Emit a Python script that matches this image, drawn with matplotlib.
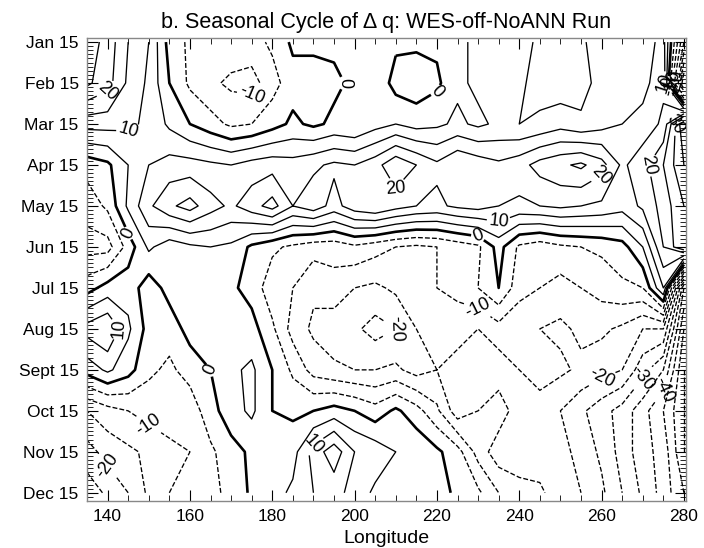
import numpy as np
import matplotlib
matplotlib.use("Agg")
import matplotlib.pyplot as plt
from matplotlib.ticker import MultipleLocator

plt.rcParams['font.family'] = ['Liberation Sans', 'DejaVu Sans']

# Longitude grid (deg E) and month labels
longitudes = [135, 140, 145, 150, 155, 160, 165, 170, 175, 180,
              185, 190, 195, 200, 205, 210, 215, 220, 225, 230,
              235, 240, 245, 250, 255, 260, 265, 270, 275, 280]
months = ["Jan 15", "Feb 15", "Mar 15", "Apr 15", "May 15", "Jun 15",
          "Jul 15", "Aug 15", "Sept 15", "Oct 15", "Nov 15", "Dec 15"]

# Delta q by month (rows) and longitude (columns)
dq_jan = [28, 23, 15, 10, -2, -6, -5, -7, -7, -4, 1, 2, 1, 3, 4, 1, 1, 1, 3, 7, 8, 7, 4, 3, 4, 8, 9, 7, 12, -20]
dq_feb = [26, 22, 14, 9, 0, -6, -9, -11, -12, -7, -2, -4, -1, 1, 4, -2, -3, -1, 4, 6, 8, 6, 3, 2, 3, 7, 8, 8, 14, -40]
dq_mar = [12, 12, 11, 9, 4, 0, -3, -6, -5, -2, 1, -1, 1, 0, 3, 5, 3, 4, 6, 4, 6, 5, 6, 8, 6, 8, 10, 12, 16, 40]
dq_apr = [-3, -1, 5, 10, 12, 12, 11, 10, 12, 13, 12, 14, 16, 15, 18, 24, 20, 16, 20, 18, 16, 18, 22, 24, 26, 22, 14, 18, 25, 35]
dq_may = [-8, -4, 6, 14, 19, 22, 17, 14, 18, 22, 15, 18, 13, 18, 20, 17, 15, 14, 16, 17, 15, 14, 15, 16, 15, 14, 12, 16, 22, 30]
dq_jun = [-12, -12, -3, 6, 2, 4, 5, 4, -1, -4, -6, -8, -8, -6, -8, -10, -11, -10, -8, -6, 2, -6, -8, -6, -5, -4, -2, 5, 20, 30]
dq_jul = [-2, 2, 3, -3, 2, 3, 3, 1, -2, -8, -10, -14, -12, -15, -16, -14, -12, -10, -8, -5, 0, -8, -10, -12, -10, -8, -6, -5, 10, -40]
dq_aug = [12, 15, 6, -2, -3, 2, 3, 1, 2, -4, -12, -16, -18, -19, -22, -20, -15, -13, -14, -15, -12, -14, -15, -16, -14, -14, -16, -20, -20, -50]
dq_sep = [2, 6, 2, -4, -6, -3, 0, 4, 6, 0, -6, -12, -14, -15, -15, -14, -17, -15, -16, -19, -18, -15, -14, -14, -16, -18, -20, -28, -35, -55]
dq_oct = [-15, -12, -10, -8, -6, -8, -2, 3, 6, 0, -1, 0, 2, 0, -3, 1, -3, -9, -18, -15, -12, -18, -16, -20, -24, -28, -32, -38, -45, -55]
dq_nov = [-22, -18, -16, -14, -12, -10, -6, -2, 1, 2, 3, 12, 18, 10, 8, 5, 4, 1, -3, -12, -18, -20, -18, -18, -22, -26, -32, -38, -42, -55]
dq_dec = [-28, -24, -20, -14, -10, -8, -6, -4, 1, 3, 6, 10, 12, 8, 4, 3, 3, 2, -1, -4, -10, -12, -14, -18, -20, -24, -30, -36, -42, -50]

dq = np.array([dq_jan, dq_feb, dq_mar, dq_apr, dq_may, dq_jun,
               dq_jul, dq_aug, dq_sep, dq_oct, dq_nov, dq_dec], dtype=float)
month_pos = np.arange(len(months))

levels = np.arange(-60, 65, 5)
styles = ['dashed' if lv < 0 else 'solid' for lv in levels]
widths = [1.9 if lv == 0 else 0.95 for lv in levels]

fig = plt.figure(figsize=(7.04, 5.48), dpi=100)
ax = fig.add_axes([0.1236, 0.0858, 0.8508, 0.8449])

cs = ax.contour(longitudes, month_pos, dq, levels=levels, colors='black',
                linestyles=styles, linewidths=widths)
label_levels = [lv for lv in levels if lv % 10 == 0 and abs(lv) <= 40]
ax.clabel(cs, levels=label_levels, fmt='%d', fontsize=13, inline=True,
          inline_spacing=2)

ax.set_xlim(135, 280.5)
ax.set_ylim(11.2, -0.1)
ax.set_xticks([140, 160, 180, 200, 220, 240, 260, 280])
ax.xaxis.set_minor_locator(MultipleLocator(5))
ax.set_yticks(month_pos)
ax.set_yticklabels(months)
ax.yaxis.set_minor_locator(MultipleLocator(0.1))
ax.tick_params(axis='both', which='major', direction='in', length=8,
               width=0.8, labelsize=12.5, top=True, right=True, pad=6)
ax.tick_params(axis='both', which='minor', direction='in', length=4,
               width=0.6, top=True, right=True)
for sp in ax.spines.values():
    sp.set_color('#888888')
    sp.set_linewidth(1.0)

ax.set_xlabel('Longitude', fontsize=14, labelpad=4)
ax.set_title('b. Seasonal Cycle of \u0394 q: WES-off-NoANN Run',
             fontsize=15.5, pad=7)

fig.savefig('out.png', dpi=100)
